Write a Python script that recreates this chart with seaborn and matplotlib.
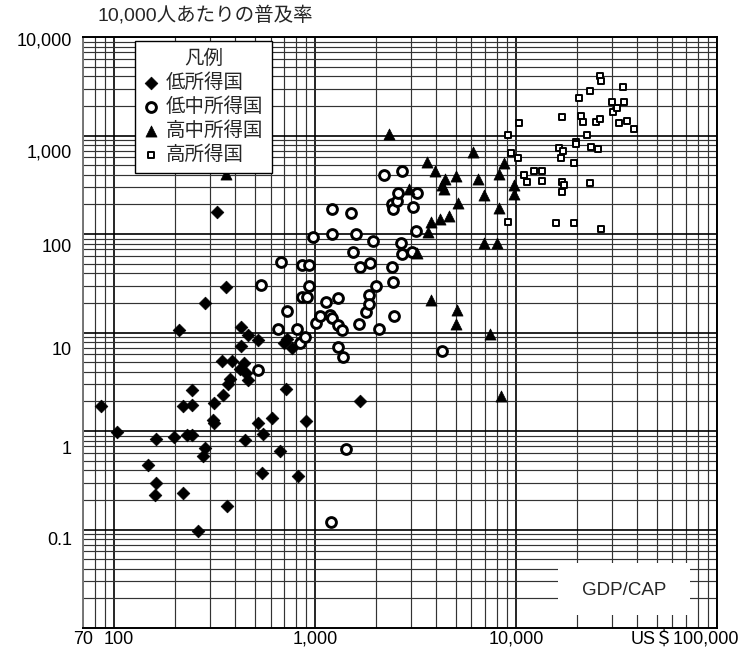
import matplotlib
matplotlib.use("Agg")
import matplotlib.pyplot as plt
import matplotlib.ticker as mticker
from matplotlib.transforms import ScaledTranslation
from matplotlib.patches import Rectangle
import seaborn as sns
import pandas as pd

# ---------------- data ----------------
groups = ["低所得国", "低中所得国", "高中所得国", "高所得国"]

low_x = [360, 284, 210, 428, 462, 519, 428, 343, 385, 445, 423, 452, 462, 378, 370,
         350, 244, 221, 244, 315, 86, 310, 315, 519, 613, 899, 718, 723, 701, 766,
         1675, 103, 161, 199, 230, 244, 449, 550, 670, 284, 276, 148, 161, 159, 219,
         547, 820, 364, 261, 324]
low_y = [28.8, 20.1, 10.6, 11.3, 9.44, 8.39, 7.29, 5.14, 5.14, 4.93, 4.23, 3.85, 3.30, 3.35, 3.0,
         2.32, 2.61, 1.79, 1.84, 1.91, 1.79, 1.29, 1.20, 1.20, 1.36, 1.27, 2.67, 8.53, 7.76, 6.92,
         2.03, 0.98, 0.82, 0.86, 0.91, 0.91, 0.81, 0.93, 0.63, 0.67, 0.557, 0.449, 0.294, 0.224, 0.237,
         0.377, 0.352, 0.173, 0.097, 168]

lmid_x = [522, 538, 656, 675, 728, 811, 842, 865, 933, 865, 916, 891, 933, 975, 1015,
          1059, 1135, 1188, 1219, 1306, 1306, 1368, 1300, 1383, 1211, 1216, 1517, 1541, 1600, 1649,
          1675, 1788, 1857, 1857, 1879, 1937, 2011, 2070, 2203, 2410, 2438, 2483, 2410, 2438, 2548,
          2594, 2679, 2710, 2710, 3062, 3206, 3170, 3040, 4295, 1197, 1422]
lmid_y = [4.16, 30.3, 10.8, 52.4, 16.5, 10.8, 7.87, 48.4, 48.4, 23.1, 23.1, 9.10, 29.9, 94, 12.6,
          14.7, 20.4, 15.1, 13.9, 22.4, 12.0, 10.5, 7.18, 5.60, 179, 100, 164, 65.6, 100, 12.1,
          46.6, 16.1, 23.8, 19.4, 50.4, 85.5, 29.6, 10.8, 397, 46.6, 32.8, 14.8, 200, 178, 218,
          259, 80.5, 62.2, 440, 189, 259, 107, 66, 6.53, 0.12, 0.656]

umid_x = [360, 2326, 6130, 3594, 3955, 4449, 5012, 4295, 4395, 2944, 6486, 8225, 8710, 9772, 9772,
          6934, 5129, 8225, 3776, 4188, 4624, 3637, 3206, 6934, 8073, 3776, 5070, 5012, 7430, 8414]
umid_y = [406, 1035, 685, 542, 437, 361, 388, 314, 284, 284, 359, 406, 522, 314, 255,
          249, 205, 182, 133, 141, 153, 105, 64.6, 81.6, 81.6, 21.4, 16.9, 12.1, 9.59, 2.26]

high_x = [10380, 9100, 9440, 10190, 10990, 11300, 12250, 13430, 13430, 9160,
          26180, 26490, 34040, 23330, 20510, 29920, 30270, 31700, 34440, 16870,
          21040, 21620, 25120, 26180, 32510, 35560, 38810, 22540, 19890, 19890,
          23600, 25470, 16410, 17180, 16750, 19500, 16870, 17380, 16870, 23330,
          15760, 19360, 26490]
high_y = [1349, 1012, 668, 596, 397, 335, 440, 440, 345, 131,
          4018, 3573, 3085, 2812, 2421, 2203, 1746, 1888, 2203, 1531,
          1578, 1362, 1362, 1472, 1330, 1403, 1164, 1005, 865, 815,
          769, 729, 752, 696, 596, 530, 335, 312, 265, 332,
          128, 128, 112]

x_ticks = [70, 100, 1000, 10000, 100000]
x_ticklabels = ["70", "100", "1,000", "10,000", "US＄100,000"]
y_ticks = [0.1, 1, 10, 100, 1000, 10000]
y_ticklabels = ["0.1", "1", "10", "100", "1,000", "10,000"]

title_text = "10,000人あたりの普及率"
legend_title = "凡例"
box_text = "GDP/CAP"

# ---------------- build table ----------------
frames = []
for g, xs, ys in zip(groups, [low_x, lmid_x, umid_x, high_x], [low_y, lmid_y, umid_y, high_y]):
    frames.append(pd.DataFrame({"gdp": xs, "rate": ys, "group": g}))
df = pd.concat(frames, ignore_index=True)

# ---------------- style ----------------
sns.set_theme(style="white")
plt.rcParams["font.family"] = ["Liberation Sans", "Noto Sans CJK JP"]

fig = plt.figure(figsize=(7.51, 6.57), dpi=100)
ax = fig.add_axes([83 / 751, 1 - 628 / 657, (717 - 83) / 751, (628 - 37) / 657])

styles = {
    "低所得国": dict(marker="D", s=42, color="black", edgecolor="black", linewidth=0.5),
    "低中所得国": dict(marker="o", s=50, color="black", facecolor="white", edgecolor="black", linewidth=2.1),
    "高中所得国": dict(marker="^", s=64, color="black", edgecolor="black", linewidth=0.5),
    "高所得国": dict(marker="s", s=22, color="black", facecolor="white", edgecolor="black", linewidth=1.4),
}

for g in groups:
    sub = df[df["group"] == g]
    sns.scatterplot(data=sub, x="gdp", y="rate", ax=ax, label=g, zorder=4, **styles[g])

ax.set_xscale("log")
ax.set_yscale("log")
ax.set_xlim(70, 100000)
ax.set_ylim(0.01, 10000)

ax.set_xticks(x_ticks)
ax.set_xticklabels(x_ticklabels)
ax.set_yticks(y_ticks)
ax.set_yticklabels(y_ticklabels)
ax.xaxis.set_minor_locator(mticker.LogLocator(base=10, subs=range(2, 10), numticks=20))
ax.yaxis.set_minor_locator(mticker.LogLocator(base=10, subs=range(2, 10), numticks=20))
ax.xaxis.set_minor_formatter(mticker.NullFormatter())
ax.yaxis.set_minor_formatter(mticker.NullFormatter())
ax.tick_params(which="both", length=0)
ax.tick_params(axis="y", pad=8, labelsize=13, colors="black")
ax.tick_params(axis="x", pad=2, labelsize=13, colors="black")
ax.set_xlabel("")
ax.set_ylabel("")

ax.set_axisbelow(True)
ax.grid(which="major", color="black", linewidth=1.2)
ax.grid(which="minor", color="#333333", linewidth=0.85)
for sp in ax.spines.values():
    sp.set_color("black")
    sp.set_linewidth(1.4)
ax.spines["left"].set_color("#777777")

# label offsets like the original
y_offsets_px = [9, 16, 16, 11, 16, 2]
for lab, dy in zip(ax.get_yticklabels(), y_offsets_px):
    lab.set_transform(lab.get_transform() + ScaledTranslation(0, -dy / 100, fig.dpi_scale_trans))
xl = ax.get_xticklabels()
xl[1].set_transform(xl[1].get_transform() + ScaledTranslation(0.05, 0, fig.dpi_scale_trans))
xl[-1].set_transform(xl[-1].get_transform() + ScaledTranslation(-0.32, 0, fig.dpi_scale_trans))

# GDP/CAP box
ax.add_patch(Rectangle((0.749, 0.022), 0.208, 0.088, transform=ax.transAxes,
                       facecolor="white", edgecolor="none", zorder=2))
ax.text(0.853, 0.063, box_text, transform=ax.transAxes, ha="center", va="center",
        fontsize=13.5, zorder=3)

# legend
leg = ax.legend(title=legend_title, loc="upper left", bbox_to_anchor=(0.082, 0.993),
                fontsize=14, title_fontsize=14, frameon=True, fancybox=False,
                framealpha=1, edgecolor="black", handlelength=0.7, handletextpad=0.45,
                labelspacing=0.28, borderpad=0.45, borderaxespad=0)
leg.get_frame().set_linewidth(1.0)
leg.set_zorder(5)

fig.text(97 / 751, 1 - 15 / 657, title_text, ha="left", va="center", fontsize=14)

fig.savefig("out.png", dpi=100)
